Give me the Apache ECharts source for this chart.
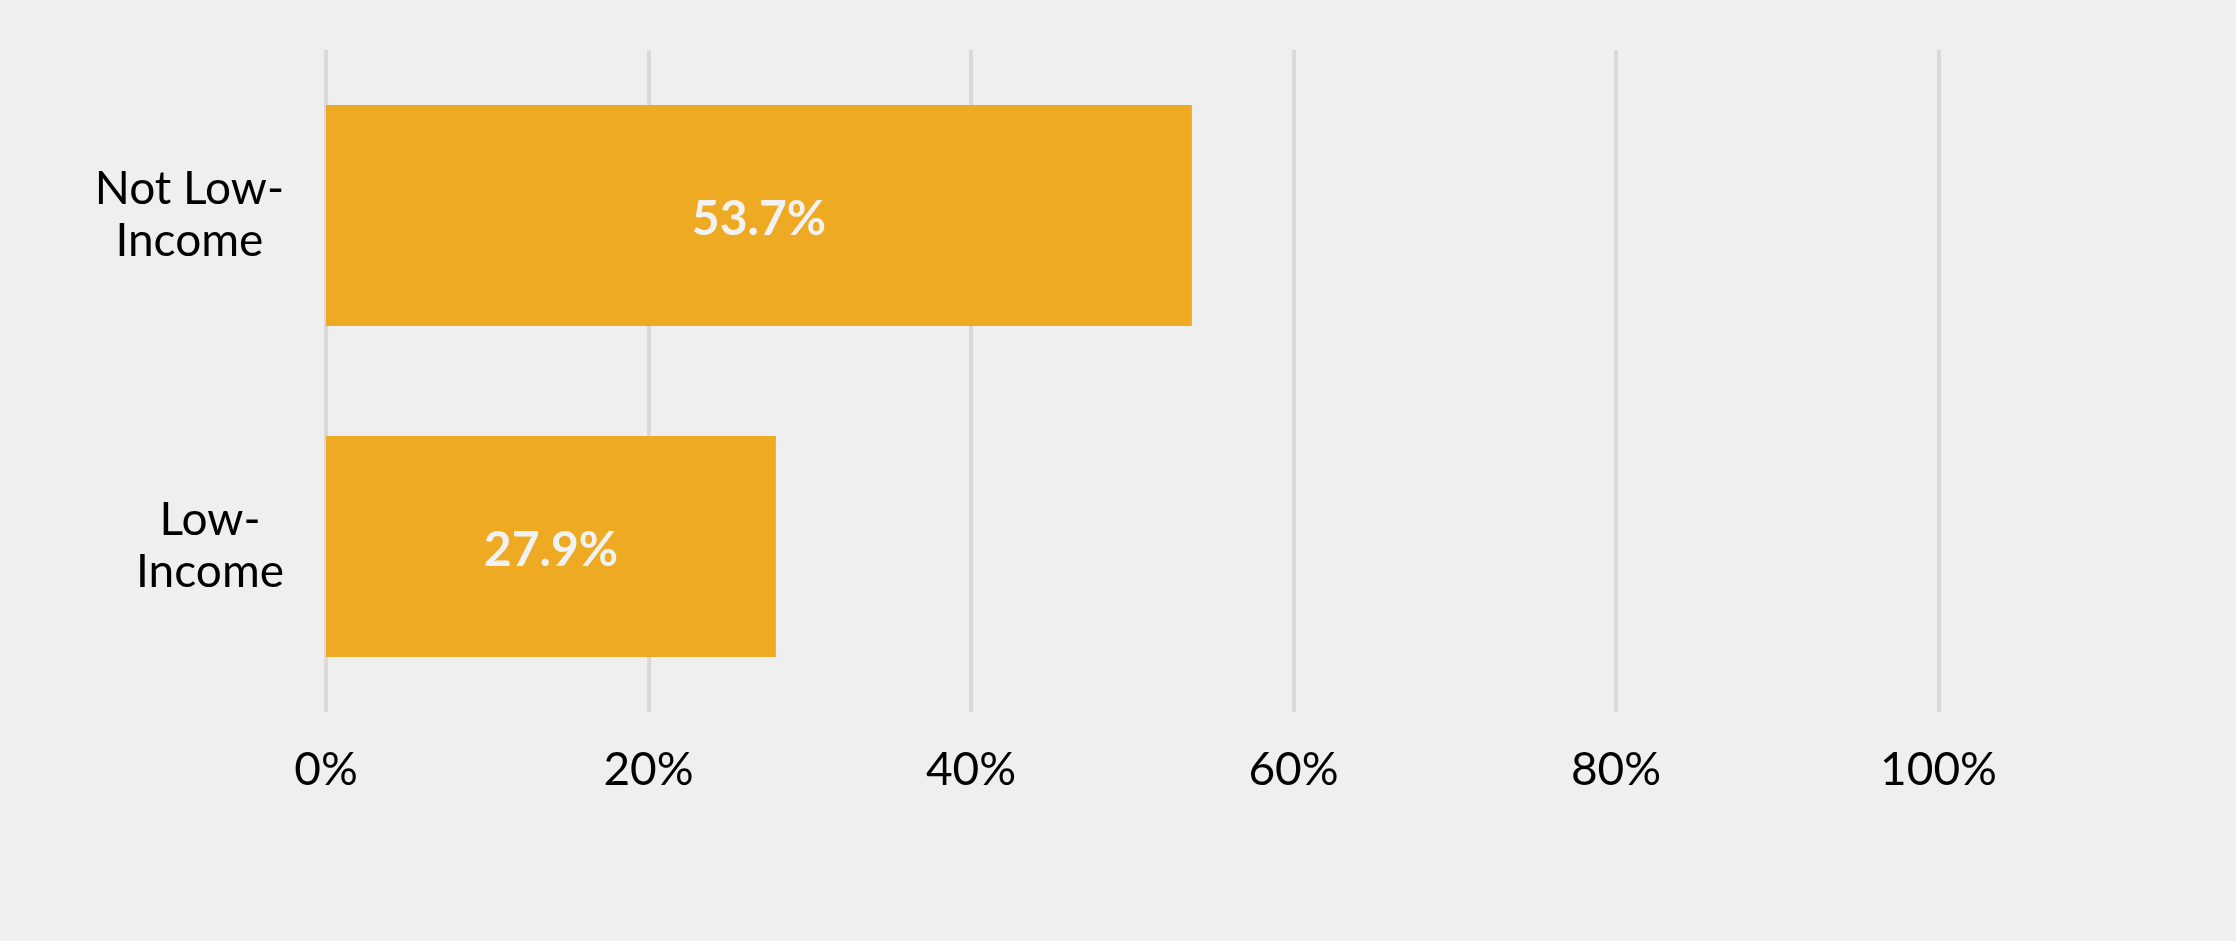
<!DOCTYPE html>
<html>
<head>
<meta charset="utf-8">
<script src="https://cdn.jsdelivr.net/npm/echarts@6/dist/echarts.min.js"></script>
<style>
html,body{margin:0;padding:0;background:#efefef;}
#chart{width:2236px;height:941px;}
</style>
</head>
<body>
<div id="chart"></div>
<script>
const categories = ['Low-Income', 'Not Low-Income'];
const values = [27.9, 53.7];
const xTicks = [0, 20, 40, 60, 80, 100];

const FONT = 'Futura, "Century Gothic", Lato, sans-serif';
const chart = echarts.init(document.getElementById('chart'));
chart.setOption({
  backgroundColor: '#efefef',
  animation: false,
  grid: { left: 326, right: 297.5, top: 50, bottom: 229, containLabel: false },
  xAxis: {
    type: 'value',
    min: xTicks[0],
    max: xTicks[xTicks.length - 1],
    interval: 20,
    axisLine: { show: false },
    axisTick: { show: false },
    splitLine: { show: true, lineStyle: { color: '#d9d9d9', width: 4 } },
    axisLabel: {
      color: '#000',
      fontFamily: FONT,
      fontSize: 46,
      margin: 35,
      formatter: v => v + '%'
    }
  },
  yAxis: {
    type: 'category',
    data: categories,
    axisLine: { show: false },
    axisTick: { show: false },
    splitLine: { show: false },
    axisLabel: {
      color: '#000',
      fontFamily: FONT,
      fontSize: 46,
      margin: 42,
      align: 'right',
      formatter: v => {
        const parts = v.split('-');
        return '{a|' + parts[0] + '-}\n{a|' + parts.slice(1).join('-') + '}';
      },
      rich: {
        a: { fontFamily: FONT, fontSize: 46, color: '#000', align: 'center', lineHeight: 52 }
      }
    }
  },
  series: [{
    type: 'bar',
    data: values,
    barWidth: 221,
    itemStyle: { color: '#efaa24' },
    label: {
      show: true,
      position: 'inside',
      offset: [0, 4],
      color: '#f2f2f2',
      fontFamily: FONT,
      fontWeight: 'bold',
      fontSize: 48,
      formatter: p => p.value.toFixed(1) + '%'
    }
  }]
});
</script>
</body>
</html>
